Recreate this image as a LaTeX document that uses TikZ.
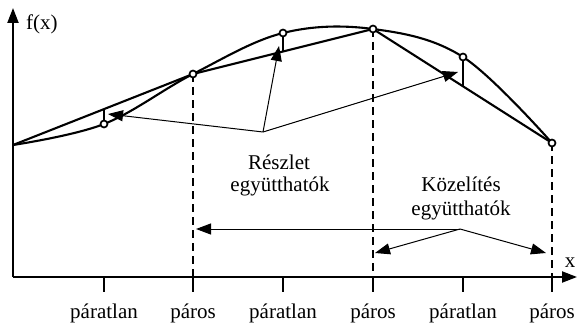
\documentclass[tikz,border=0pt]{standalone}
\usepackage{fontspec}
\setmainfont{Liberation Serif}
\usetikzlibrary{arrows.meta}
\begin{document}
\begin{tikzpicture}[x=1pt,y=-1pt,
  thickline/.style={line width=2.1pt},
  thinarrow/.style={line width=1pt,-{Triangle[length=15pt,width=11pt]}},
  dashline/.style={line width=2.1pt,dash pattern=on 8pt off 5pt},
  pt/.style={circle,draw,line width=1.7pt,fill=white,inner sep=0pt,minimum size=7pt},
  lbl/.style={font=\fontsize{21}{25}\selectfont,inner sep=0pt},
  tickline/.style={line width=2.6pt}]
\useasboundingbox (0,0) rectangle (577,326);
% axes
\coordinate (O) at (13,277);
\coordinate (Ytop) at (13,8);
\coordinate (Xend) at (577,277);
\draw[thickline,-{Triangle[length=15pt,width=11pt]}] (O) -- (Ytop);
\draw[thickline,-{Triangle[length=15pt,width=11pt]}] (O) -- (Xend);
\node[lbl,anchor=west] (fx) at (26,24) {f(x)};
\node[lbl] (xl) at (570,263) {x};
% curve points
\coordinate (P0) at (13,145);
\coordinate (P1) at (104,124);
\coordinate (P2) at (193,74);
\coordinate (P3) at (283,33);
\coordinate (P4) at (373,29);
\coordinate (P5) at (463,57);
\coordinate (P6) at (552,143);
% chord points on odd positions
\coordinate (C1) at (104,109);
\coordinate (C3) at (283,51);
\coordinate (C5) at (463,86);
% curve
\draw[thickline] plot[smooth,tension=0.6] coordinates {(P0) (P1) (P2) (P3) (P4) (P5) (P6)};
% chords
\draw[thickline] (P0) -- (P2) -- (P4) -- (P6);
% ticks from odd points to chords
\draw[tickline] (P1) -- (C1);
\draw[tickline] (P3) -- (C3);
\draw[tickline] (P5) -- (C5);
% axis base points
\coordinate (B1) at (104,277);
\coordinate (B2) at (193,277);
\coordinate (B3) at (283,277);
\coordinate (B4) at (373,277);
\coordinate (B5) at (463,277);
\coordinate (B6) at (552,277);
% dashed verticals
\draw[dashline] (P2) -- (B2);
\draw[dashline] (P4) -- (B4);
\draw[dashline] (P6) -- (B6);
% ticks below axis
\foreach \b in {B1,B2,B3,B4,B5,B6} \draw[thickline] (\b) -- ++(0,15);
% labels
\node[lbl] (l1) at (104,313) {páratlan};
\node[lbl] (l2) at (193,313) {páros};
\node[lbl] (l3) at (283,313) {páratlan};
\node[lbl] (l4) at (373,313) {páros};
\node[lbl] (l5) at (463,313) {páratlan};
\node[lbl] (l6) at (552,313) {páros};
% circles
\foreach \p in {P1,P2,P3,P4,P5,P6} \node[pt] at (\p) {};
% Részlet arrows
\coordinate (H1) at (263,132);
\coordinate (T1) at (108,114);
\coordinate (T2) at (279,46);
\coordinate (T3) at (458,72);
\draw[thinarrow] (H1) -- (T1);
\draw[thinarrow] (H1) -- (T2);
\draw[thinarrow] (H1) -- (T3);
\node[lbl] (r1) at (279,162) {Részlet};
\node[lbl] (r2) at (280,186) {együtthatók};
% Közelítés arrows
\coordinate (H2) at (460,229);
\coordinate (T4) at (196,229);
\coordinate (T5) at (375,253);
\coordinate (T6) at (546,253);
\draw[thinarrow] (H2) -- (T4);
\draw[thinarrow] (H2) -- (T5);
\draw[thinarrow] (H2) -- (T6);
\node[lbl] (k1) at (461,184) {Közelítés};
\node[lbl] (k2) at (461,210) {együtthatók};
\end{tikzpicture}
\end{document}
